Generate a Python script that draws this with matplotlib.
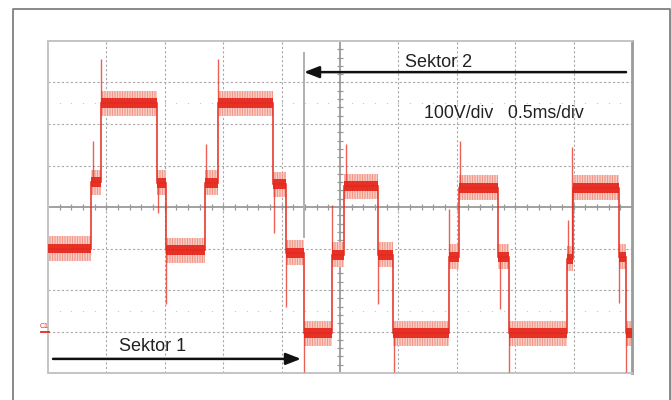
"""Oscilloscope trace: multilevel inverter output, Sektor 1 / Sektor 2."""
import matplotlib
matplotlib.use("Agg")
import matplotlib.pyplot as plt
import numpy as np

# time breakpoints of the stepped waveform (ms) and the level of each step (V)
t_breaks = [0.0, 0.368, 0.454, 0.933, 1.010, 1.344, 1.455, 1.926, 2.038,
            2.192, 2.432, 2.534, 2.825, 2.954, 3.433, 3.519, 3.853, 3.947,
            4.443, 4.495, 4.889, 4.949, 5.0]
levels = [-100, 60, 250, 58, -104, 58, 250, 55, -110, -304, -115, 50,
          -115, -304, -120, 46, -120, -304, -125, 46, -120, -304]

# switching transients: time (ms) and peak value (V)
spike_t = [0.385, 0.454, 0.942, 1.010, 1.353, 1.455, 1.935, 2.038, 2.192,
           2.432, 2.551, 2.825, 2.962, 3.433, 3.527, 3.870, 3.947, 4.452,
           4.486, 4.889, 4.949]
spike_v = [159, 357, -14, -234, 152, 357, -63, -241, -398, 5, 152, -234,
           -398, -5, 159, -246, -398, -31, 145, -231, -398]

sector_labels = ["Sektor 1", "Sektor 2"]
scale_label = "100V/div   0.5ms/div"

RED = "#e52a1f"
LIGHT_RED = "#f08a78"
W, H = 671, 400


def fig_box(x0, y0, x1, y1):
    # pixel box (top-left origin) -> figure fraction rect
    return [x0 / W, 1 - y1 / H, (x1 - x0) / W, (y1 - y0) / H]


def plot(save_path="out.png"):
    plt.rcParams["font.family"] = ["Liberation Sans", "DejaVu Sans"]
    plt.rcParams["hatch.linewidth"] = 0.6

    fig = plt.figure(figsize=(W / 100, H / 100), dpi=100)
    fig.patch.set_facecolor("white")

    # outer frame (bottom edge runs off the picture)
    fig.add_artist(plt.Line2D([13 / W, 13 / W, 670 / W, 670 / W],
                              [0, 1 - 8.5 / H, 1 - 8.5 / H, 0],
                              color="#808080", lw=1.3))

    ax = fig.add_axes(fig_box(48, 41, 632, 373))
    ax.set_xlim(0, 5)
    ax.set_ylim(-400, 400)
    ax.set_xticks([])
    ax.set_yticks([])
    for side, sp in ax.spines.items():
        sp.set_color("#9a9a9a" if side == "right" else "#c4c4c4")
        sp.set_linewidth(2.0 if side == "right" else 1.4)

    # graticule
    for gx in np.arange(0.5, 5, 0.5):
        if abs(gx - 2.5) > 1e-6:
            ax.axvline(gx, color="#a8a8a8", lw=0.8, ls=(0, (2, 2)), zorder=1)
    for gy in np.arange(-300, 400, 100):
        if gy != 0:
            ax.axhline(gy, color="#a8a8a8", lw=0.8, ls=(0, (2, 2)), zorder=1)
    ax.axvline(2.5, color="#9a9a9a", lw=1.3, zorder=1)
    ax.axhline(0, color="#9a9a9a", lw=1.3, zorder=1)
    minor_x = np.arange(0.1, 5, 0.1)
    minor_y = np.arange(-380, 400, 20)
    ax.vlines(minor_x, -8, 8, color="#9a9a9a", lw=0.9, zorder=1)
    ax.hlines(minor_y, 2.5 - 0.025, 2.5 + 0.025, color="#9a9a9a", lw=0.9, zorder=1)
    for gy in (250, -250):
        ax.plot(minor_x, np.full_like(minor_x, gy), ls="none", marker="o",
                ms=0.9, mew=0, color="#c8c8c8", zorder=1)

    # cursor
    ax.plot([2.192, 2.192], [371, -72], color="#b0b0b0", lw=1.4, zorder=1)

    # trace: ripple envelope, core band, step line, transients
    lv = np.array(levels, dtype=float)
    ax.stairs(lv + 30, t_breaks, baseline=lv - 30, fill=True,
              facecolor="#fbe3de", edgecolor=LIGHT_RED, lw=0,
              hatch="||||||||||", zorder=2)
    ax.stairs(lv + 12, t_breaks, baseline=lv - 12, fill=True,
              color=RED, lw=0, alpha=0.95, zorder=3)
    ax.stairs(lv, t_breaks, baseline=None, color=RED, lw=1.1, zorder=3)
    idx = np.clip(np.searchsorted(t_breaks, spike_t, side="right") - 1,
                  0, len(levels) - 1)
    ax.vlines(spike_t, lv[idx], spike_v, color=RED, lw=1.0, alpha=0.75, zorder=3)

    # sector arrows and labels
    arrow = dict(arrowstyle="-|>,head_length=0.9,head_width=0.35",
                 color="#111111", lw=1.8, shrinkA=0, shrinkB=0)
    ax.annotate("", xy=(2.166, -366), xytext=(0.043, -366),
                arrowprops=arrow, zorder=5)
    ax.annotate("", xy=(2.192, 325), xytext=(4.949, 325),
                arrowprops=arrow, zorder=5)
    ax.text(0.899, -337, sector_labels[0], fontsize=13, color="#222222",
            ha="center", va="center", zorder=5)
    ax.text(3.348, 349, sector_labels[1], fontsize=13, color="#222222",
            ha="center", va="center", zorder=5)
    ax.text(3.219, 226, scale_label, fontsize=12.8, color="#222222",
            ha="left", va="center", zorder=5)

    # channel 1 ground marker
    fig.text(44 / W, 1 - 327 / H, "C1", fontsize=5, color=RED,
             ha="center", va="center")
    fig.add_artist(plt.Line2D([41 / W, 49 / W], [1 - 332 / H, 1 - 332 / H],
                              color=RED, lw=1.3))

    fig.savefig(save_path, dpi=100)
    print(f"Saved to {save_path}")


def main():
    plot("out.png")


if __name__ == "__main__":
    main()
